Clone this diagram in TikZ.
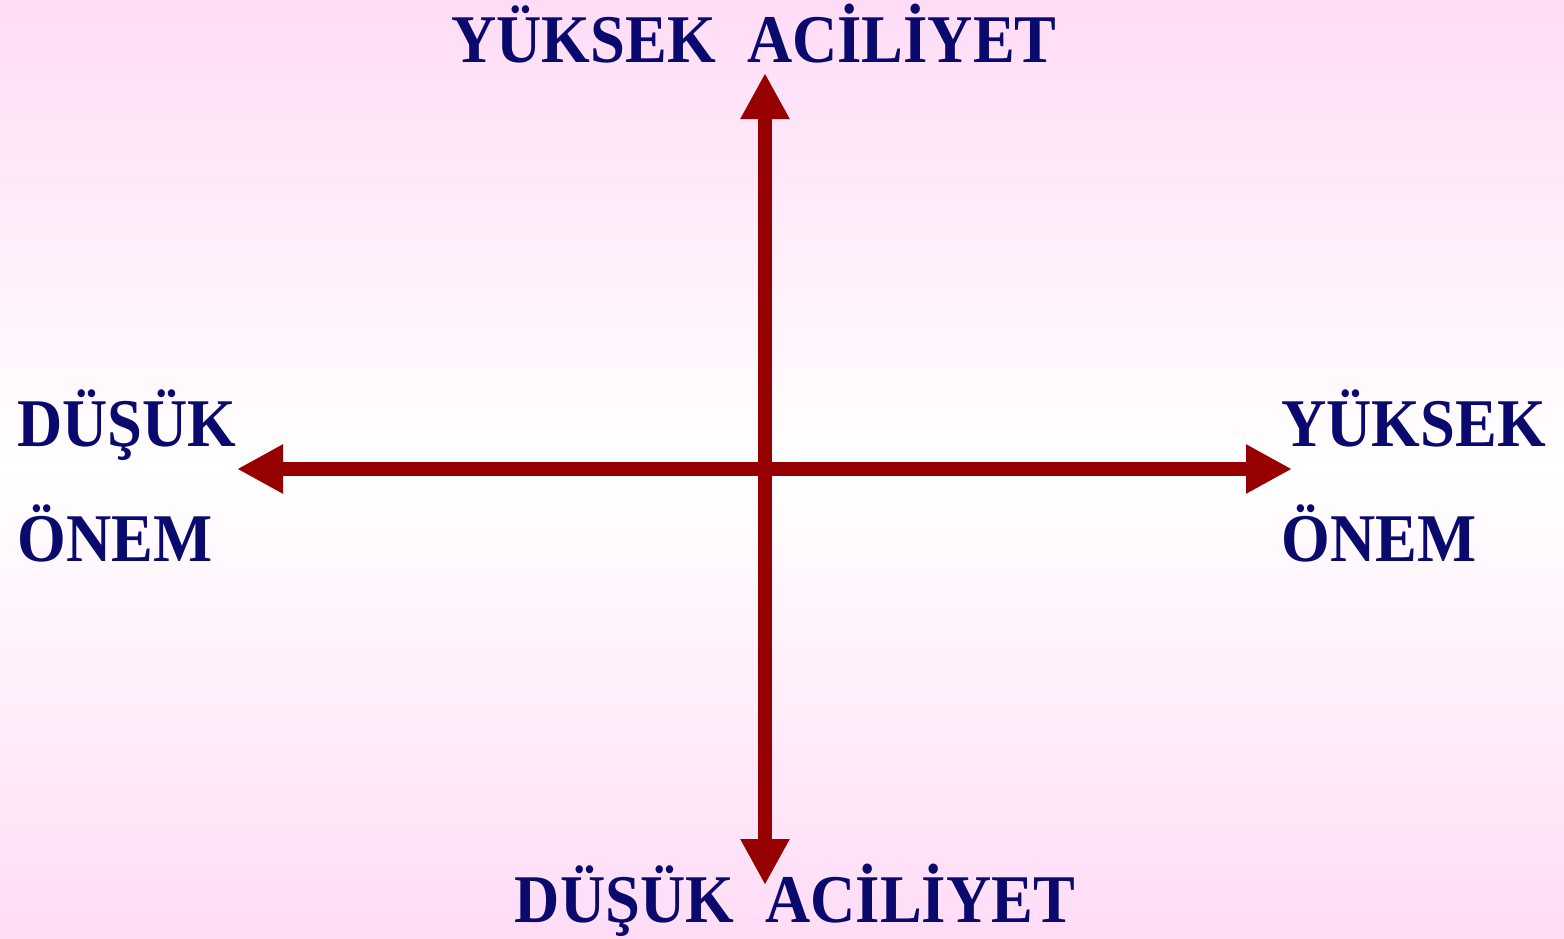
\documentclass[tikz,border=0pt]{standalone}
\usepackage{fontspec}
\setmainfont{Liberation Serif}
\usetikzlibrary{arrows.meta}
\definecolor{navy}{RGB}{10,10,110}
\definecolor{axisred}{RGB}{150,0,0}
\definecolor{bgpink}{RGB}{255,220,246}
\newcommand{\tall}[1]{\scalebox{1}[1.09]{#1}}
\tikzset{
  lbl/.style={inner sep=0pt, text=navy, font=\bfseries\fontsize{31.3pt}{33pt}\selectfont, anchor=base west},
  axis/.style={draw=axisred, line width=7pt, {Triangle[length=23pt,width=23pt]}-{Triangle[length=23pt,width=23pt]}}
}
\begin{document}
\begin{tikzpicture}[x=0.5pt,y=-0.5pt]
\shade[top color=bgpink, bottom color=bgpink, middle color=white] (0,0) rectangle (1564,938);
\useasboundingbox (0,0) rectangle (1564,938);
\coordinate (ttip) at (765,73);
\coordinate (btip) at (765,885);
\coordinate (ltip) at (237,469);
\coordinate (rtip) at (1292,469);
\draw[axis] (btip) -- (ttip);
\draw[axis] (ltip) -- (rtip);
\node[lbl, anchor=base] (top) at (754,62) {\tall{YÜKSEK\ \ ACİLİYET}};
\node[lbl, anchor=base] (bot) at (795,922) {\tall{DÜŞÜK\ \ ACİLİYET}};
\node[lbl] (l1) at (17,446) {\tall{DÜŞÜK}};
\node[lbl] (l2) at (17,561) {\tall{ÖNEM}};
\node[lbl] (r1) at (1281,446) {\tall{YÜKSEK}};
\node[lbl] (r2) at (1281,561) {\tall{ÖNEM}};
\end{tikzpicture}
\end{document}
